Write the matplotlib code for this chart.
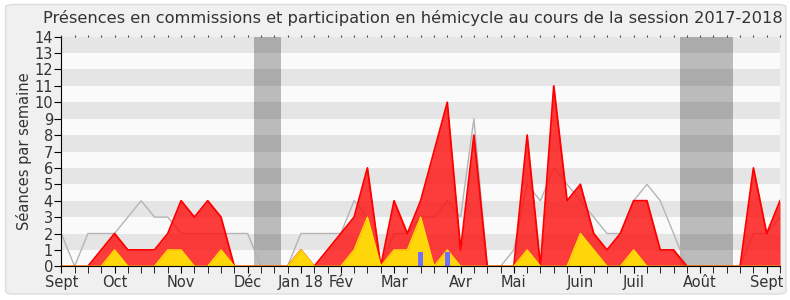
import matplotlib
matplotlib.use("Agg")
import matplotlib.pyplot as plt
import numpy as np
from matplotlib.patches import FancyBboxPatch

# weekly values, session 2017-2018 (55 weeks)
hemicycle = [0, 0, 0, 1, 2, 1, 1, 1, 2, 4, 3, 4, 3, 0, 0, 0, 0, 0, 1, 0,
             1, 2, 3, 6, 0, 4, 2, 4, 7, 10, 1, 8, 0, 0, 0, 8, 0, 11, 4, 5,
             2, 1, 2, 4, 4, 1, 1, 0, 0, 0, 0, 0, 6, 2, 4]
commission = [0, 0, 0, 0, 1, 0, 0, 0, 1, 1, 0, 0, 1, 0, 0, 0, 0, 0, 1, 0,
              0, 0, 1, 3, 0, 1, 1, 3, 0, 1, 0, 0, 0, 0, 0, 1, 0, 0, 0, 2,
              1, 0, 0, 1, 0, 0, 0, 0, 0, 0, 0, 0, 0, 0, 0]
mediane = [2, 0, 2, 2, 2, 3, 4, 3, 3, 2, 2, 2, 2, 2, 2, 0, 0, 0, 2, 2,
           2, 2, 4, 3, 0, 2, 2, 3, 3, 4, 3, 9, 0, 0, 1, 5, 4, 6, 5, 4,
           3, 2, 2, 4, 5, 4, 2, 0, 0, 0, 0, 0, 2, 2, 3]
questions_weeks = [27, 29]
questions_vals = [0.87, 0.87]
vacances = [(14.5, 16.5), (46.5, 50.5)]
month_pos = [0, 4, 9, 14, 18, 21, 25, 30, 34, 39, 43, 48, 53]
month_labels = ["Sept", "Oct", "Nov", "Déc", "Jan 18", "Fév", "Mar", "Avr",
                "Mai", "Juin", "Juil", "Août", "Sept"]

weeks = np.arange(len(hemicycle))

fig = plt.figure(figsize=(7.9, 3.0), dpi=100)
fig.patch.set_facecolor("white")
fig.patches.append(FancyBboxPatch((0.007, 0.02), 0.988, 0.965,
                                  boxstyle="round,pad=0,rounding_size=0.01",
                                  transform=fig.transFigure, facecolor="#f0f0f0",
                                  edgecolor="#dddddd", lw=1, zorder=-10))

ax = fig.add_axes([0.0776, 0.1123, 0.9098, 0.7654])
ax.set_facecolor("#fafafa")
ax.set_xlim(0, 54)
ax.set_ylim(0, 14)

# alternating stripes
for y in range(1, 14, 2):
    ax.axhspan(y, y + 1, color="#e5e5e5", lw=0, zorder=0)

# holidays
for a, b in vacances:
    ax.axvspan(a, b, color="black", alpha=0.25, lw=0, zorder=1)

ax.plot(weeks, mediane, color="#b4b4b4", lw=1, zorder=2)
ax.fill_between(weeks, hemicycle, color=(1, 0.05, 0.05), alpha=0.8, lw=0, zorder=3)
ax.plot(weeks, hemicycle, color="#ff0000", lw=1.3, zorder=4)
ax.fill_between(weeks, commission, color="#ffd60a", lw=0, zorder=5)
ax.plot(weeks, commission, color="#ffe000", lw=1, zorder=5)
ax.bar(questions_weeks, questions_vals, width=0.35, color="#7070ff", zorder=6)

for s in ["top", "right"]:
    ax.spines[s].set_visible(False)
ax.spines["left"].set_zorder(7)
ax.spines["bottom"].set_zorder(7)

ax.set_yticks(range(0, 15))
ax.set_xticks(weeks, minor=True)
ax.set_xticks(month_pos)
ax.set_xticklabels(month_labels)
ax.tick_params(axis="both", which="major", labelsize=10.5, labelcolor="#333333",
               length=5, pad=1)
ax.tick_params(axis="x", which="minor", length=5)
ax.tick_params(axis="y", pad=1)

top = ax.secondary_xaxis("top")
top.set_xticks(weeks)
top.tick_params(length=1.5, labeltop=False, color="#444444")
top.spines["top"].set_visible(False)

ax.set_ylabel("Séances par semaine", fontsize=10.5, color="#333333", labelpad=2)
fig.text(0.5225, 0.94, "Présences en commissions et participation en hémicycle au cours de la session 2017-2018",
         ha="center", va="center", fontsize=11.7, color="#333333")

fig.savefig("out.png", dpi=100)
